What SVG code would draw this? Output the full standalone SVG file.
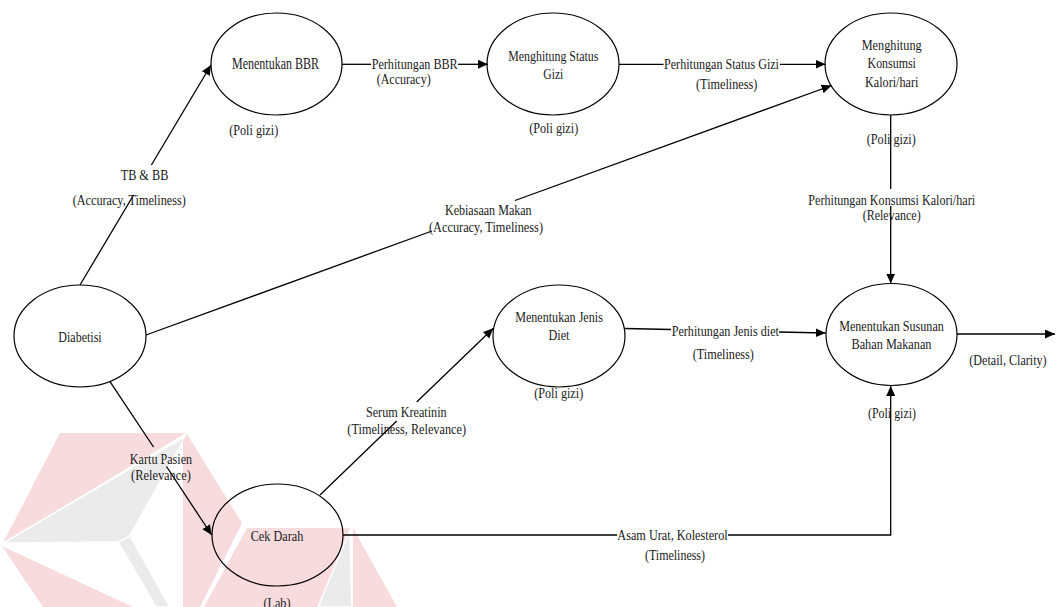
<svg xmlns="http://www.w3.org/2000/svg" width="1056" height="607" viewBox="0 0 1056 607" font-family="'Liberation Serif', 'DejaVu Serif', serif">
  <style>
    .node ellipse { fill: none; stroke: #000; stroke-width: 1.2; }
    text { font-family: "Liberation Serif", "DejaVu Serif", serif; fill: #1a1a1a; text-anchor: middle; }
    .nl { font-size: 15px; }
    .nb { font-size: 16px; }
    .el { font-size: 14px; }
    .conn path { fill: none; stroke: #000; stroke-width: 1.3; }
    .wm-r { fill: #f8dcdd; }
    .wm-g { fill: #ebebeb; stroke: #fff; stroke-width: 1.5; }
  </style>
  <defs>
    <marker id="arrow" markerUnits="userSpaceOnUse" markerWidth="11" markerHeight="10" refX="10" refY="4.5" orient="auto">
      <path d="M0,0 L10,4.5 L0,9 z" fill="#000"/>
    </marker>
  </defs>

  <rect width="1056" height="607" fill="#fff"/>

  <!-- faint logo watermark, lower left -->
  <g id="watermark">
    <polygon class="wm-r" points="60,433 186,433 3,543"/>
    <polygon class="wm-g" points="186,436 3,543 120,542 129,537"/>
    <polygon class="wm-g" points="118,542 130,536 170,607 156,607"/>
    <polygon class="wm-r" points="2,546 133,607 43,607"/>
    <polygon class="wm-r" points="187,434 242,523 200,607 183,607 183,441"/>
    <polygon class="wm-r" points="247,528 350,528 318,607 204,607"/>
    <polygon class="wm-g" points="350,530 318,607 352,607"/>
    <polygon class="wm-r" points="353,528 397,607 353,607"/>
  </g>

  <!-- connectors -->
  <g id="connectors" class="conn">
    <path d="M80,285 L133.6,195"/>
    <path d="M151.4,165 L211,65" marker-end="url(#arrow)"/>
    <path d="M342,64.3 L371,64.3"/>
    <path d="M458,64.3 L488,64.3" marker-end="url(#arrow)"/>
    <path d="M619,64.3 L663.5,64.3"/>
    <path d="M780,64.3 L825.5,64.3" marker-end="url(#arrow)"/>
    <path d="M146,335 L432,231"/>
    <path d="M515,200.5 L831.5,85.5" marker-end="url(#arrow)"/>
    <path d="M890.7,115 L890.7,189"/>
    <path d="M890.7,206 L890.7,283.5" marker-end="url(#arrow)"/>
    <path d="M110,381.7 L153.5,447"/>
    <path d="M166.5,466.5 L211.7,535" marker-end="url(#arrow)"/>
    <path d="M320,495 L396.7,421"/>
    <path d="M416.7,402 L493.3,328.3" marker-end="url(#arrow)"/>
    <path d="M625,328.5 L671,329.5"/>
    <path d="M779,332 L825.7,333" marker-end="url(#arrow)"/>
    <path d="M343,535 L617,535"/>
    <path d="M728,535 L890.7,535 L890.7,386" marker-end="url(#arrow)"/>
    <path d="M957,334 L1055,334" marker-end="url(#arrow)"/>
  </g>

  <!-- connector labels -->
  <g id="labels" class="el">
    <text x="144.5" y="180" textLength="47.7" lengthAdjust="spacingAndGlyphs">TB &amp; BB</text>
    <text x="129.2" y="205" textLength="113" lengthAdjust="spacingAndGlyphs">(Accuracy, Timeliness)</text>
    <text x="414.7" y="68.5" textLength="86" lengthAdjust="spacingAndGlyphs">Perhitungan BBR</text>
    <text x="403.7" y="83.5" textLength="54" lengthAdjust="spacingAndGlyphs">(Accuracy)</text>
    <text x="721.5" y="68.5" textLength="115" lengthAdjust="spacingAndGlyphs">Perhitungan Status Gizi</text>
    <text x="726.7" y="88.5" textLength="61.3" lengthAdjust="spacingAndGlyphs">(Timeliness)</text>
    <text x="488.3" y="215" textLength="86.7" lengthAdjust="spacingAndGlyphs">Kebiasaan Makan</text>
    <text x="486" y="231.7" textLength="114" lengthAdjust="spacingAndGlyphs">(Accuracy, Timeliness)</text>
    <text x="891.7" y="205" textLength="166.7" lengthAdjust="spacingAndGlyphs">Perhitungan Konsumsi Kalori/hari</text>
    <text x="891.7" y="220" textLength="58" lengthAdjust="spacingAndGlyphs">(Relevance)</text>
    <text x="725.3" y="336" textLength="107.3" lengthAdjust="spacingAndGlyphs">Perhitungan Jenis diet</text>
    <text x="723.3" y="359.3" textLength="61.3" lengthAdjust="spacingAndGlyphs">(Timeliness)</text>
    <text x="1008" y="365" textLength="77.3" lengthAdjust="spacingAndGlyphs">(Detail, Clarity)</text>
    <text x="161" y="464" textLength="62.3" lengthAdjust="spacingAndGlyphs">Kartu Pasien</text>
    <text x="161" y="480" textLength="60" lengthAdjust="spacingAndGlyphs">(Relevance)</text>
    <text x="406.3" y="416.7" textLength="80.7" lengthAdjust="spacingAndGlyphs">Serum Kreatinin</text>
    <text x="406.7" y="434.3" textLength="118.7" lengthAdjust="spacingAndGlyphs">(Timeliness, Relevance)</text>
    <text x="672.5" y="540" textLength="110.4" lengthAdjust="spacingAndGlyphs">Asam Urat, Kolesterol</text>
    <text x="675" y="560" textLength="60" lengthAdjust="spacingAndGlyphs">(Timeliness)</text>
  </g>

  <!-- process nodes -->
  <g id="node-bbr" class="node">
    <ellipse cx="276.5" cy="64" rx="65.5" ry="51"/>
    <text class="nb" x="275.5" y="69" textLength="87" lengthAdjust="spacingAndGlyphs">Menentukan BBR</text>
    <text class="el" x="253.7" y="135" textLength="49" lengthAdjust="spacingAndGlyphs">(Poli gizi)</text>
  </g>

  <g id="node-status-gizi" class="node">
    <ellipse cx="553" cy="64" rx="66" ry="51"/>
    <text class="nl" x="553.3" y="61" textLength="90" lengthAdjust="spacingAndGlyphs">Menghitung Status</text>
    <text class="nl" x="553.3" y="78.5" textLength="20" lengthAdjust="spacingAndGlyphs">Gizi</text>
    <text class="el" x="553.7" y="133.3" textLength="49" lengthAdjust="spacingAndGlyphs">(Poli gizi)</text>
  </g>

  <g id="node-konsumsi" class="node">
    <ellipse cx="891" cy="64" rx="66" ry="51"/>
    <text class="nl" x="891.7" y="50" textLength="60" lengthAdjust="spacingAndGlyphs">Menghitung</text>
    <text class="nl" x="891.7" y="68.3" textLength="48.3" lengthAdjust="spacingAndGlyphs">Konsumsi</text>
    <text class="nl" x="891.7" y="87.3" textLength="53.3" lengthAdjust="spacingAndGlyphs">Kalori/hari</text>
    <text class="el" x="891.3" y="144" textLength="49" lengthAdjust="spacingAndGlyphs">(Poli gizi)</text>
  </g>

  <g id="node-diabetisi" class="node">
    <ellipse cx="80" cy="336" rx="66" ry="51"/>
    <text class="nl" x="80" y="341.7" textLength="43.3" lengthAdjust="spacingAndGlyphs">Diabetisi</text>
  </g>

  <g id="node-jenis-diet" class="node">
    <ellipse cx="559" cy="336" rx="66" ry="51"/>
    <text class="nl" x="559" y="321.7" textLength="87.7" lengthAdjust="spacingAndGlyphs">Menentukan Jenis</text>
    <text class="nl" x="559" y="340" textLength="21" lengthAdjust="spacingAndGlyphs">Diet</text>
    <text class="el" x="558.7" y="398.3" textLength="49" lengthAdjust="spacingAndGlyphs">(Poli gizi)</text>
  </g>

  <g id="node-susunan" class="node">
    <ellipse cx="891.5" cy="334.5" rx="65.5" ry="51"/>
    <text class="nl" x="891.5" y="330.7" textLength="104.7" lengthAdjust="spacingAndGlyphs">Menentukan Susunan</text>
    <text class="nl" x="891.5" y="349" textLength="80" lengthAdjust="spacingAndGlyphs">Bahan Makanan</text>
    <text class="el" x="892" y="418" textLength="48" lengthAdjust="spacingAndGlyphs">(Poli gizi)</text>
  </g>

  <g id="node-cek-darah" class="node">
    <ellipse cx="277.5" cy="535" rx="65.5" ry="51"/>
    <text class="nl" x="277" y="540.7" textLength="52.7" lengthAdjust="spacingAndGlyphs">Cek Darah</text>
    <text class="el" x="277" y="608" textLength="27" lengthAdjust="spacingAndGlyphs">(Lab)</text>
  </g>
</svg>
